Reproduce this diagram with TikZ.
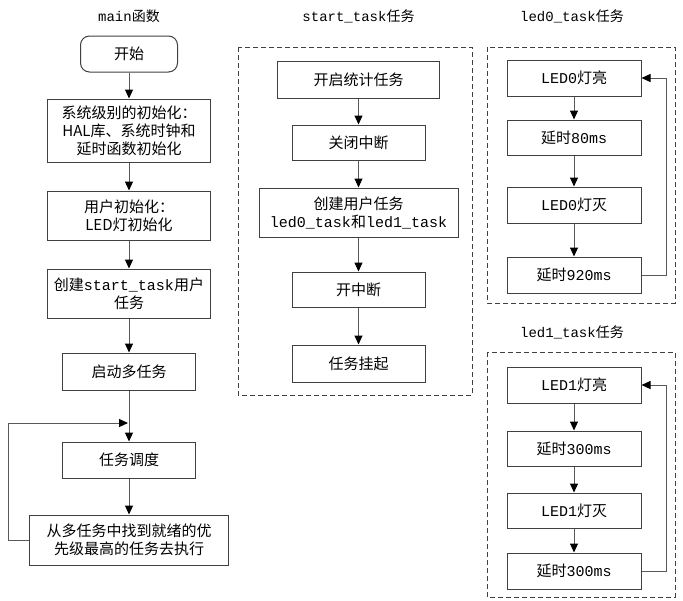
\documentclass[tikz,border=0pt]{standalone}
\usepackage{fontspec}
\setmainfont{Noto Sans CJK SC}
\setmonofont{Liberation Mono}
\usetikzlibrary{arrows.meta}

\tikzset{
  box/.style={draw=black!75, line width=1pt, align=center, inner sep=1pt,
    font=\fontsize{15}{18}\selectfont},
  frame/.style={draw=black!75, line width=1pt, dash pattern=on 5pt off 3pt},
  flow/.style={draw=black!65, line width=1pt, -{Triangle[length=9pt,width=8pt,color=black]}},
  title/.style={font=\fontsize{14}{16}\selectfont},
}

\begin{document}
\begin{tikzpicture}[x=1pt,y=-1pt]
    \useasboundingbox (0,0) rectangle (683,600);

    % main
    \node[title] (tmain) at (129,16) {\texttt{main}函数};
    \node[box, rounded corners=9pt, minimum width=97pt, minimum height=36pt] (start) at (129,54) {开始};
    \node[box, minimum width=163pt, minimum height=63pt] (init) at (129,130.5) {系统级别的初始化：\\HAL库、系统时钟和\\延时函数初始化};
    \node[box, minimum width=163pt, minimum height=49pt] (user) at (129,215.5) {用户初始化：\\LED灯初始化};
    \node[box, minimum width=163pt, minimum height=49pt] (mktask) at (129,293.5) {创建\texttt{start\_task}用户\\任务};
    \node[box, minimum width=133pt, minimum height=37pt] (launch) at (129,371.5) {启动多任务};
    \coordinate (join) at (129,423);
    \node[box, minimum width=133pt, minimum height=36pt] (sched) at (129,460) {任务调度};
    \node[box, minimum width=199pt, minimum height=50pt] (find) at (129,540) {从多任务中找到就绪的优\\先级最高的任务去执行};

    \draw[flow] (start) -- (init);
    \draw[flow] (init) -- (user);
    \draw[flow] (user) -- (mktask);
    \draw[flow] (mktask) -- (launch);
    \draw[flow] (launch) -- (sched);
    \draw[flow] (sched) -- (find);
    \draw[flow] (find.west) -- ++(-21,0) |- ([xshift=-1pt]join);

    % start_task
    \node[title] (tstart) at (358.5,16) {\texttt{start\_task}任务};
    \draw[frame] (238,47) rectangle (472,395);
    \node[box, minimum width=162pt, minimum height=37pt] (stat) at (358.5,79.5) {开启统计任务};
    \node[box, minimum width=133pt, minimum height=35pt] (irqoff) at (358.5,142.5) {关闭中断};
    \node[box, minimum width=199pt, minimum height=49pt] (mkled) at (358.5,212.5) {创建用户任务\\\texttt{led0\_task}和\texttt{led1\_task}};
    \node[box, minimum width=133pt, minimum height=35pt] (irqon) at (358.5,289.5) {开中断};
    \node[box, minimum width=133pt, minimum height=37pt] (hang) at (358.5,363.5) {任务挂起};

    \draw[flow] (stat) -- (irqoff);
    \draw[flow] (irqoff) -- (mkled);
    \draw[flow] (mkled) -- (irqon);
    \draw[flow] (irqon) -- (hang);

    % led0_task
    \node[title] (tled0) at (572,16) {\texttt{led0\_task}任务};
    \draw[frame] (487,47) rectangle (675,303);
    \node[box, minimum width=134pt, minimum height=36pt] (on0) at (574,78) {\texttt{LED0}灯亮};
    \node[box, minimum width=134pt, minimum height=35pt] (wait0a) at (574,137.5) {延时\texttt{80ms}};
    \node[box, minimum width=134pt, minimum height=36pt] (off0) at (574,205) {\texttt{LED0}灯灭};
    \node[box, minimum width=134pt, minimum height=36pt] (wait0b) at (574,275) {延时\texttt{920ms}};

    \draw[flow] (on0) -- (wait0a);
    \draw[flow] (wait0a) -- (off0);
    \draw[flow] (off0) -- (wait0b);
    \draw[flow] (wait0b.east) -- ++(25,0) |- (on0.east);

    % led1_task
    \node[title] (tled1) at (572,332) {\texttt{led1\_task}任务};
    \draw[frame] (487,352) rectangle (675,597);
    \node[box, minimum width=134pt, minimum height=36pt] (on1) at (574,385) {\texttt{LED1}灯亮};
    \node[box, minimum width=134pt, minimum height=35pt] (wait1a) at (574,448.5) {延时\texttt{300ms}};
    \node[box, minimum width=134pt, minimum height=35pt] (off1) at (574,510.5) {\texttt{LED1}灯灭};
    \node[box, minimum width=134pt, minimum height=36pt] (wait1b) at (574,571) {延时\texttt{300ms}};

    \draw[flow] (on1) -- (wait1a);
    \draw[flow] (wait1a) -- (off1);
    \draw[flow] (off1) -- (wait1b);
    \draw[flow] (wait1b.east) -- ++(25,0) |- (on1.east);
\end{tikzpicture}
\end{document}
